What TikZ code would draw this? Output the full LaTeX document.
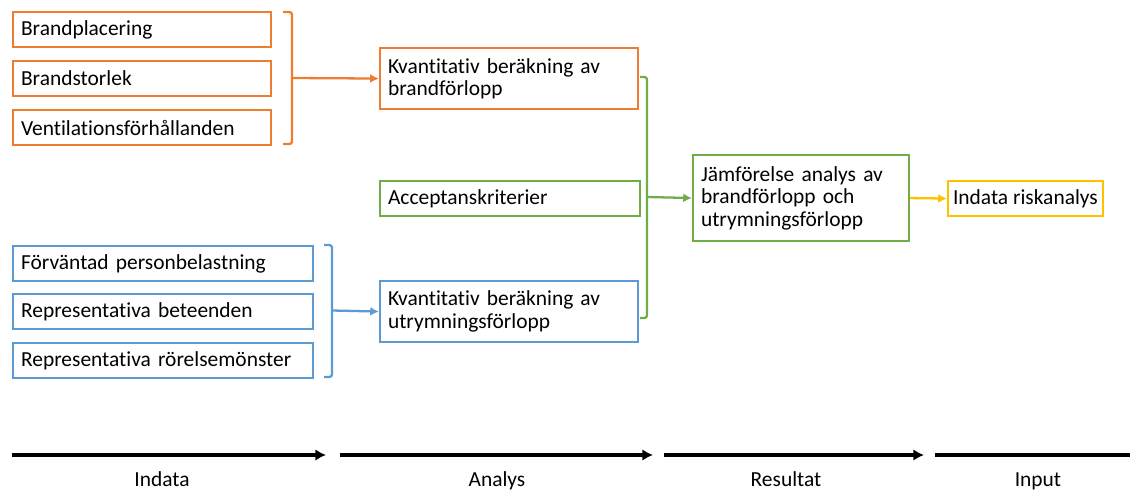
\documentclass[tikz,border=0pt]{standalone}
\usepackage{fontspec}
\setmainfont{Carlito}[Ligatures={NoCommon}]
\usepackage{tikz}
\usetikzlibrary{arrows.meta}
\definecolor{brorange}{HTML}{ED7D31}
\definecolor{brgreen}{HTML}{70AD47}
\definecolor{brblue}{HTML}{5B9BD5}
\definecolor{bryellow}{HTML}{FFC000}
\newcommand{\boxfont}{\fontsize{12.2}{12.8}\selectfont}
\tikzset{
  lbox/.style={draw, line width=1.2pt, anchor=north west, inner xsep=0.16cm,
    align=left, font=\boxfont},
  onebox/.style={lbox, minimum height=0.7cm, text width=#1-0.32cm},
  twobox/.style={lbox, minimum height=1.22cm, text width=5.16cm-0.32cm},
  brace/.style={line width=1.3pt, rounded corners=1.5pt},
  feed/.style={line width=1.3pt, -{Latex[length=5pt,width=5pt]}},
  phase/.style={line width=2.3pt, -{Latex[length=6pt,width=6.5pt]}},
  phaselabel/.style={font=\boxfont, anchor=base},
}
\begin{document}
\begin{tikzpicture}[x=0.02cm, y=-0.02cm]
        \useasboundingbox (0,0) rectangle (1130,490);
        % indata brand
        \node [onebox=5.16cm, draw=brorange] (bp) at (12,11) {Brandplacering};
        \node [onebox=5.16cm, draw=brorange] (bs) at (12,60) {Brandstorlek};
        \node [onebox=5.16cm, draw=brorange] (vf) at (12,109) {Ventilationsförhållanden};
        % indata utrymning
        \node [onebox=6cm, draw=brblue] (fp) at (12,245) {Förväntad personbelastning};
        \node [onebox=6cm, draw=brblue] (rb) at (12,293) {Representativa beteenden};
        \node [onebox=6cm, draw=brblue] (rr) at (12,342) {Representativa rörelsemönster};
        % analys
        \node [twobox, draw=brorange] (kb) at (379,47) {Kvantitativ beräkning av\\brandförlopp};
        \node [onebox=5.2cm, draw=brgreen] (ak) at (379,180) {Acceptanskriterier};
        \node [twobox, draw=brblue] (ku) at (379,280) {Kvantitativ beräkning av\\utrymningsförlopp};
        % resultat
        \node [lbox, draw=brgreen, minimum height=1.72cm, text width=4.32cm-0.32cm] (jf) at (692,154)
          {Jämförelse analys av\\brandförlopp och\\utrymningsförlopp};
        \node [lbox, draw=bryellow, inner xsep=0.1cm, minimum width=3.06cm, minimum height=0.7cm] (ir) at (947,180) {Indata riskanalys};
        % klammer
        \draw [brace, brorange] (283,12) -- (292,12) -- (292,144) -- (283,144);
        \draw [brace, brblue] (324,245) -- (332,245) -- (332,377) -- (324,377);
        \draw [brace, brgreen] (640,77) -- (647,77) -- (647,318) -- (640,318);
        \coordinate (ob) at (292,78);
        \coordinate (bb) at (332,310.5);
        \coordinate (gb) at (647,197);
        \draw [feed, brorange] (ob) -- (kb.west);
        \draw [feed, brblue] (bb) -- (ku.west);
        \draw [feed, brgreen] (gb) -- (jf.west);
        \draw [feed, bryellow] (jf.east) -- (ir.west);
        % faser
        \coordinate (p1) at (12,455);
        \coordinate (p2) at (326,455);
        \coordinate (p3) at (340,455);
        \coordinate (p4) at (653,455);
        \coordinate (p5) at (664,455);
        \coordinate (p6) at (924,455);
        \coordinate (p7) at (935,455);
        \coordinate (p8) at (1130,455);
        \draw [phase] (p1) -- (p2);
        \draw [phase] (p3) -- (p4);
        \draw [phase] (p5) -- (p6);
        \draw [line width=2.3pt] (p7) -- (p8);
        \node [phaselabel] (t1) at (162,486) {Indata};
        \node [phaselabel] (t2) at (497,486) {Analys};
        \node [phaselabel] (t3) at (786,486) {Resultat};
        \node [phaselabel] (t4) at (1038,486) {Input};
    \end{tikzpicture}
\end{document}
